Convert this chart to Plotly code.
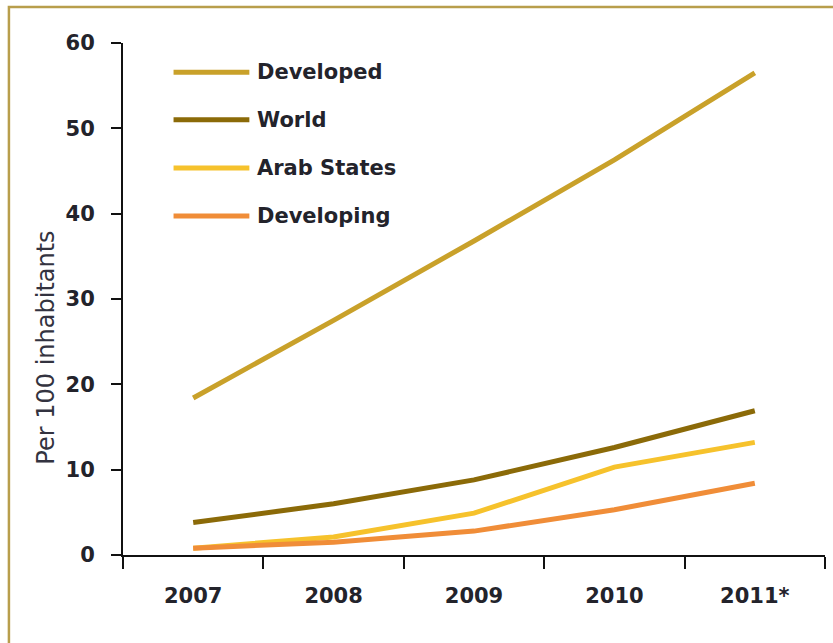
import plotly.graph_objects as go

years = ["2007", "2008", "2009", "2010", "2011*"]
developed = [18.4, 27.5, 36.8, 46.3, 56.5]
world = [3.8, 6.0, 8.8, 12.6, 16.9]
arab_states = [0.8, 2.1, 4.9, 10.3, 13.2]
developing = [0.8, 1.5, 2.8, 5.3, 8.4]

series_names = ["Developed", "World", "Arab States", "Developing"]
series_values = [developed, world, arab_states, developing]
series_colors = ["#C9A12A", "#8B6A08", "#F6C22C", "#F08D38"]

FONT = "DejaVu Sans"
TXT = "#23232b"

fig = go.Figure()
for name, vals, col in zip(series_names, series_values, series_colors):
    fig.add_trace(go.Scatter(x=years, y=vals, name=name, mode="lines",
                             line=dict(color=col, width=5),
                             showlegend=False))

# manual legend (long line samples like the original)
leg_y = [0.943, 0.850, 0.756, 0.662]
for name, col, ly in zip(series_names, series_colors, leg_y):
    fig.add_shape(type="line", xref="paper", yref="paper",
                  x0=0.072, x1=0.180, y0=ly, y1=ly,
                  line=dict(color=col, width=5))
    fig.add_annotation(xref="paper", yref="paper", x=0.188, y=ly,
                       text=name, showarrow=False, xanchor="left",
                       yanchor="middle",
                       font=dict(family=FONT, size=21, color=TXT, weight="bold"))

# y-axis title
fig.add_annotation(xref="paper", yref="paper", x=0, y=0.405, xshift=-77,
                   text="Per 100 inhabitants", textangle=-90, showarrow=False,
                   xanchor="center", yanchor="middle",
                   font=dict(family=FONT, size=24, color="#333340"))

# outer gold frame
fig.add_shape(type="rect", xref="paper", yref="paper",
              x0=-0.1625, x1=1.5, y0=-0.5, y1=1.0705,
              line=dict(color="#B89E4C", width=2.5), layer="below")

fig.update_layout(
    width=833, height=643,
    margin=dict(l=123, r=8, t=43, b=88),
    paper_bgcolor="white", plot_bgcolor="white",
    showlegend=False,
    xaxis=dict(type="category", range=[-0.5, 4.5], tickson="boundaries",
               showline=True, linecolor="#111", linewidth=2,
               ticks="outside", ticklen=12, tickwidth=2, tickcolor="#111",
               showgrid=False, zeroline=False, ticklabelstandoff=21,
               tickfont=dict(family=FONT, size=21, color=TXT, weight="bold")),
    yaxis=dict(range=[0, 60], dtick=10, showline=True, linecolor="#111",
               linewidth=2, ticks="outside", ticklen=10, tickwidth=2,
               tickcolor="#111", showgrid=False, zeroline=False,
               ticklabelstandoff=12,
               tickfont=dict(family=FONT, size=21, color=TXT, weight="bold")),
)

fig.write_html("out.html")
